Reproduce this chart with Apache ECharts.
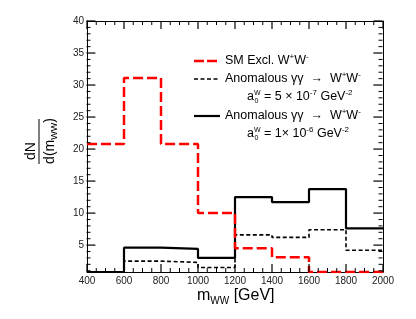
<!DOCTYPE html>
<html>
<head>
<meta charset="utf-8">
<script src="https://cdn.jsdelivr.net/npm/echarts@6/dist/echarts.min.js"></script>
<style>html,body{margin:0;padding:0;background:#fff;}#c{width:416px;height:319px;}</style>
</head>
<body>
<div id="c"></div>
<script>
// ---- data ----
const binEdges = [400, 600, 800, 1000, 1200, 1400, 1600, 1800, 2000];
const smExcl   = [20.8, 31.1, 20.8, 10.0, 4.5, 3.1, 0.8, 0.8];
const anom5e7  = [0.8, 2.5, 2.3, 1.5, 6.6, 6.2, 7.4, 4.2];
const anom1e6  = [0.8, 4.6, 4.4, 3.0, 12.5, 11.7, 13.75, 7.6];
// ---- ticks ----
const xMajorTicks = [400, 600, 800, 1000, 1200, 1400, 1600, 1800, 2000];
const xMinorTicks = [450, 500, 550, 650, 700, 750, 850, 900, 950, 1050, 1100, 1150,
                     1250, 1300, 1350, 1450, 1500, 1550, 1650, 1700, 1750, 1850, 1900, 1950];
const yMajorTicks = [5, 10, 15, 20, 25, 30, 35, 40];
const yMinorTicks = [1, 2, 3, 4, 6, 7, 8, 9, 11, 12, 13, 14, 16, 17, 18, 19, 21, 22, 23, 24,
                     26, 27, 28, 29, 31, 32, 33, 34, 36, 37, 38, 39];
const X_MIN = 400, X_MAX = 2000, Y_MIN = 0.8, Y_MAX = 40;

function histPoints(vals) {
  const pts = vals.map((v, i) => [binEdges[i], v]);
  pts.push([binEdges[binEdges.length - 1], vals[vals.length - 1]]);
  return pts;
}

const FONT = 'Liberation Sans, Arial, Helvetica, sans-serif';
const chart = echarts.init(document.getElementById('c'));

function xAx(pos, showLabel) {
  return {
    type: 'value', min: X_MIN, max: X_MAX, interval: 200, position: pos,
    axisLine: { show: true, onZero: false, lineStyle: { color: '#000', width: 1 } },
    axisTick: { show: false },
    axisLabel: { show: showLabel, fontSize: 10, color: '#222', margin: 4, fontFamily: FONT,
                 formatter: v => String(v) },
    splitLine: { show: false }
  };
}
function yAx(pos, showLabel) {
  return {
    type: 'value', min: Y_MIN, max: Y_MAX, position: pos,
    axisLine: { show: true, onZero: false, lineStyle: { color: '#000', width: 1 } },
    axisTick: { show: false },
    axisLabel: { show: showLabel, fontSize: 10, color: '#222', margin: 3, fontFamily: FONT,
                 customValues: yMajorTicks, formatter: v => String(v) },
    splitLine: { show: false }
  };
}

const FS = 12.5;
const rich = {
  n: { fontSize: FS, fontFamily: FONT, color: '#000', lineHeight: 16, verticalAlign: 'middle' },
  sup: { fontSize: 8, fontFamily: FONT, color: '#000', lineHeight: 16, verticalAlign: 'top' },
  g: { width: 10, lineHeight: 16 }
};
function txt(x, y, text) {
  return { type: 'text', x: x, y: y, silent: true,
    style: { text: text, align: 'left', verticalAlign: 'middle', rich: rich, font: FS + 'px ' + FONT } };
}
function small(x, y, s) {
  return { type: 'text', x: x, y: y, silent: true,
    style: { text: s, font: '7px ' + FONT, fill: '#000', verticalAlign: 'middle' } };
}

const graphics = [
  { type: 'line', shape: { x1: 194, y1: 61, x2: 220, y2: 61 }, style: { stroke: '#ff0000', lineWidth: 2.5, lineDash: [10, 3] } },
  { type: 'line', shape: { x1: 194, y1: 79, x2: 220, y2: 79 }, style: { stroke: '#000', lineWidth: 1.6, lineDash: [4, 2.5] } },
  { type: 'line', shape: { x1: 194, y1: 116, x2: 220, y2: 116 }, style: { stroke: '#000', lineWidth: 2.2 } },
  txt(225, 61, '{n|SM Excl. W}{sup|+}{n|W}{sup|-}'),
  txt(225, 79, '{n|Anomalous γγ  →  W}{sup|+}{n|W}{sup|-}'),
  txt(247, 97, '{n|a}{g|}{n|= 5 × 10}{sup|-7}{n| GeV}{sup|-2}'),
  txt(225, 116, '{n|Anomalous γγ  →  W}{sup|+}{n|W}{sup|-}'),
  txt(247, 134, '{n|a}{g|}{n|= 1× 10}{sup|-6}{n| GeV}{sup|-2}'),
  small(254, 93, 'W'), small(254.5, 101, '0'),
  small(254, 130, 'W'), small(254.5, 138, '0'),
  { type: 'text', x: 197, y: 296, silent: true, style: { text: '{m|m}{s|WW}{m| [GeV]}', verticalAlign: 'middle',
      rich: { m: { fontSize: 16, fontFamily: FONT, color: '#000', lineHeight: 20, verticalAlign: 'middle' },
              s: { fontSize: 10, fontFamily: FONT, color: '#000', lineHeight: 20, verticalAlign: 'bottom' } } } },
  { type: 'text', x: 31, y: 151, rotation: Math.PI / 2, silent: true,
    style: { text: 'dN', font: '14px ' + FONT, fill: '#000', align: 'center', verticalAlign: 'middle' } },
  { type: 'line', shape: { x1: 39, y1: 119, x2: 39, y2: 164 }, style: { stroke: '#000', lineWidth: 1 } },
  { type: 'text', x: 50, y: 141, rotation: Math.PI / 2, silent: true,
    style: { text: '{m|d(m}{s|WW}{m|)}', align: 'center', verticalAlign: 'middle',
      rich: { m: { fontSize: 14, fontFamily: FONT, color: '#000', lineHeight: 18, verticalAlign: 'middle' },
              s: { fontSize: 9, fontFamily: FONT, color: '#000', lineHeight: 18, verticalAlign: 'bottom' } } } }
];

chart.setOption({
  animation: false,
  backgroundColor: '#fff',
  grid: { left: 87, right: 33, top: 21, bottom: 47, containLabel: false },
  xAxis: [xAx('bottom', true), xAx('top', false)],
  yAxis: [yAx('left', true), yAx('right', false)],
  series: [
    { name: 'Anomalous a0W=5e-7', type: 'line', step: 'end', data: histPoints(anom5e7), symbol: 'none',
      lineStyle: { color: '#000', width: 1.6, type: [4, 2.5] }, z: 3 },
    { name: 'Anomalous a0W=1e-6', type: 'line', step: 'end', data: histPoints(anom1e6), symbol: 'none',
      lineStyle: { color: '#000', width: 2.2, type: 'solid' }, z: 4 },
    { name: 'SM Excl. W+W-', type: 'line', step: 'end', data: histPoints(smExcl), symbol: 'none',
      lineStyle: { color: '#ff0000', width: 2.5, type: [10, 4] }, z: 5 }
  ]
});

// ---- tick marks on all four sides, placed through the axes' own scales ----
const finder = { gridIndex: 0 };
const tickEls = [];
function tickLine(x1, y1, x2, y2, w) {
  tickEls.push({ type: 'rect', shape: { x: Math.min(x1, x2) - w / 2, y: Math.min(y1, y2) - (y1 === y2 ? w / 2 : 0),
                   width: x1 === x2 ? w : Math.abs(x2 - x1), height: y1 === y2 ? w : Math.abs(y2 - y1) },
                 style: { fill: '#000' }, z: 50 });
}
function addXTicks(values, len, w) {
  values.forEach(v => {
    const b = chart.convertToPixel(finder, [v, Y_MIN]);
    const t = chart.convertToPixel(finder, [v, Y_MAX]);
    tickLine(b[0], b[1], b[0], b[1] - len, w);
    tickLine(t[0], t[1], t[0], t[1] + len, w);
  });
}
function addYTicks(values, len, w) {
  values.forEach(v => {
    const l = chart.convertToPixel(finder, [X_MIN, v]);
    const r = chart.convertToPixel(finder, [X_MAX, v]);
    tickLine(l[0], l[1], l[0] + len, l[1], w);
    tickLine(r[0], r[1], r[0] - len, r[1], w);
  });
}
addXTicks(xMajorTicks, 8, 1.2);
addXTicks(xMinorTicks, 4, 1);
addYTicks(yMajorTicks, 9, 1.2);
addYTicks(yMinorTicks, 4, 1);
chart.setOption({ graphic: graphics.concat(tickEls) });
</script>
</body>
</html>
